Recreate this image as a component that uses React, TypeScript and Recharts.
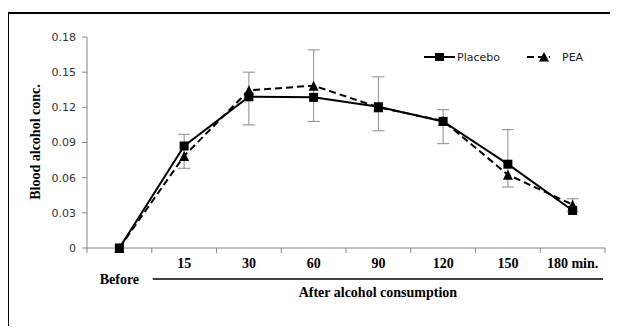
import { LineChart, Line, XAxis, YAxis, ErrorBar, Legend } from "recharts";

const categories = ["Before", "15", "30", "60", "90", "120", "150", "180 min."];
const placebo = [0, 0.087, 0.129, 0.1285, 0.1205, 0.108, 0.0715, 0.032];
const pea = [0, 0.0785, 0.1345, 0.1385, 0.12, 0.1085, 0.0625, 0.037];
// ends of the error bars
const errLow = [null, 0.068, 0.105, 0.108, 0.1, 0.089, 0.052, 0.031];
const errHigh = [null, 0.097, 0.15, 0.169, 0.146, 0.118, 0.101, 0.042];
const yTicks = [0, 0.03, 0.06, 0.09, 0.12, 0.15, 0.18];

const W = 618;
const H = 334;
const Y_AXIS_W = 87;
const RIGHT = 13;
const BAND = (W - Y_AXIS_W - RIGHT) / categories.length;
const AXIS_GRAY = "#868686";
const SERIF = "'Liberation Serif', 'Times New Roman', serif";
const SANS = "'DejaVu Sans', Verdana, sans-serif";

const data = categories.map((c, i) => ({
  idx: i,
  name: c,
  placebo: placebo[i],
  pea: pea[i],
  err:
    errLow[i] == null
      ? null
      : [placebo[i] - (errLow[i] as number), (errHigh[i] as number) - placebo[i]],
}));

const bounds = categories.map((_, i) => i - 0.5).concat(categories.length - 0.5);

const XTick = (props: any) => {
  const { x, y, payload } = props;
  const i = Math.round(payload.value + 0.5);
  return (
    <g>
      <line x1={x} x2={x} y1={y} y2={y + 5} stroke={AXIS_GRAY} strokeWidth={1} />
      {i < categories.length && (
        <text
          x={x + BAND / 2}
          y={i === 0 ? y + 36 : y + 20}
          textAnchor="middle"
          fontFamily={SERIF}
          fontWeight="bold"
          fontSize={14}
          fill="#000"
        >
          {categories[i]}
        </text>
      )}
    </g>
  );
};

const AfterLabel = (props: any) => {
  const { viewBox } = props;
  const x0 = viewBox.x + BAND + 1;
  const x1 = viewBox.x + viewBox.width - 2;
  const y = viewBox.y;
  return (
    <g>
      <line x1={x0} x2={x1} y1={y + 31} y2={y + 31} stroke="#000" strokeWidth={1.3} />
      <text
        x={(x0 + x1) / 2}
        y={y + 49}
        textAnchor="middle"
        fontFamily={SERIF}
        fontWeight="bold"
        fontSize={14}
        fill="#000"
      >
        After alcohol consumption
      </text>
    </g>
  );
};

const YLabel = (props: any) => {
  const { viewBox } = props;
  const cx = 35;
  const cy = viewBox.y + 105;
  return (
    <text
      x={cx}
      y={cy}
      transform={`rotate(-90 ${cx} ${cy})`}
      textAnchor="middle"
      dominantBaseline="central"
      fontFamily={SERIF}
      fontWeight="bold"
      fontSize={14}
      fill="#000"
    >
      Blood alcohol conc.
    </text>
  );
};

const square = (p: any) => (
  <rect key={`sq-${p.index}`} x={p.cx - 4.5} y={p.cy - 4.5} width={9} height={9} fill="#000" />
);

const triangle = (p: any) => (
  <polygon
    key={`tr-${p.index}`}
    points={`${p.cx - 5},${p.cy + 5} ${p.cx + 5},${p.cy + 5} ${p.cx},${p.cy - 5}`}
    fill="#000"
  />
);

const LegendBox = () => (
  <svg width={180} height={20}>
    <line x1={4} x2={35} y1={9} y2={9} stroke="#000" strokeWidth={2} />
    <rect x={15} y={5} width={9} height={8} fill="#000" />
    <text x={37} y={13} fontFamily={SANS} fontSize={11} fill="#222">
      Placebo
    </text>
    <line x1={107} x2={130} y1={9} y2={9} stroke="#000" strokeWidth={2} strokeDasharray="7 4" />
    <polygon points="119,13.5 129,13.5 124,4" fill="#000" />
    <text x={142} y={13} fontFamily={SANS} fontSize={11} fill="#222">
      PEA
    </text>
  </svg>
);

export default function App() {
  return (
    <div
      style={{
        position: "relative",
        width: W,
        height: H,
        margin: -8,
        overflow: "hidden",
        background: "#fff",
      }}
    >
      <div
        style={{
          position: "absolute",
          left: 7,
          top: 12,
          width: W + 20,
          height: H + 20,
          border: "2px solid #000",
        }}
      />
      <div style={{ position: "absolute", left: 0, top: 0 }}>
        <LineChart
          width={W}
          height={H}
          data={data}
          margin={{ top: 37, right: RIGHT, left: 0, bottom: 6 }}
        >
          <XAxis
            dataKey="idx"
            type="number"
            domain={[-0.5, categories.length - 0.5]}
            ticks={bounds}
            interval={0}
            tick={<XTick />}
            tickLine={false}
            tickSize={0}
            tickMargin={0}
            height={60}
            stroke={AXIS_GRAY}
            label={<AfterLabel />}
          />
          <YAxis
            width={Y_AXIS_W}
            domain={[0, 0.18]}
            ticks={yTicks}
            interval={0}
            tickSize={5}
            tickMargin={6}
            stroke={AXIS_GRAY}
            tick={{ fill: "#333", fontSize: 11, fontFamily: SANS }}
            tickFormatter={(v: number) => (v === 0 ? "0" : v.toFixed(2))}
            label={<YLabel />}
          />
          <Legend
            content={<LegendBox />}
            wrapperStyle={{ position: "absolute", left: 420, top: 48, width: 180, height: 20 }}
          />
          <Line
            dataKey="pea"
            stroke="#000"
            strokeWidth={2}
            strokeDasharray="7 4"
            dot={triangle}
            isAnimationActive={false}
          />
          <Line
            dataKey="placebo"
            stroke="#000"
            strokeWidth={2}
            dot={square}
            isAnimationActive={false}
          >
            <ErrorBar dataKey="err" direction="y" width={6} stroke="#8a8a8a" strokeWidth={1} />
          </Line>
        </LineChart>
      </div>
    </div>
  );
}
